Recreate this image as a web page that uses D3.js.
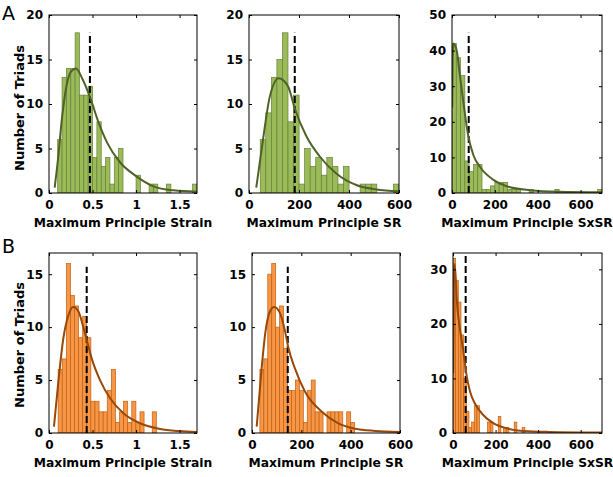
<!DOCTYPE html>
<html><head><meta charset="utf-8">
<script src="https://cdn.jsdelivr.net/npm/d3@7/dist/d3.min.js"></script>
<style>
body{margin:0;background:#fff}
svg{display:block}
text{font-family:"DejaVu Sans",sans-serif;font-weight:bold;fill:#000}
</style>
</head><body>
<svg id="c" width="613" height="477"></svg>
<script>
// ---------------- DATA ----------------
// Row A (green)
const strainA_counts = [6,13,14,14,18,11,11,12,4,8,3,4,1,4,5,0,0,0,2,0,0,1,1,0,0,1,0,0,0,0,0,1];
const strainA_bin = {start:0.1, width:0.05};
const strainA_curve = [[0.065,0.6],[0.1,3.5],[0.15,8.5],[0.2,12],[0.25,13.6],[0.31,14.0],[0.38,12.9],[0.47,10.8],[0.57,7.9],[0.67,5.6],[0.82,3.4],[1.0,1.9],[1.2,0.75],[1.43,0.3],[1.7,0.15]];
const strainA_mean = [0.47, 18];

const srA_counts = [6,9,13,15,18,8,11,1,5,3,4,2,4,3,1,3,0,0,1,1,1,0,0,0,1];
const srA_bin = {start:45, width:22.2};
const srA_curve = [[29,0.6],[56,6],[83,10.8],[119,12.9],[156,12],[183,9.5],[229,6.4],[283,4.1],[349,2.2],[429,0.9],[509,0.4],[600,0.2]];
const srA_mean = [183, 18];

const sxsrA_counts = [42,38,33,9,6,8,8,1,1,2,3,3,3,1,1,1,0,0,1,0,0,0,0,0,1,0,0,0,0,0,0,0,0,0,1];
const sxsrA_bin = {start:0, width:20};
const sxsrA_curve = [[1,24],[3,38],[6,42],[14,41.5],[22,40],[37,33],[53,25.5],[76,16],[100,10.6],[131,7.3],[193,3.7],[255,1.9],[364,0.8],[500,0.35],[700,0.2]];
const sxsrA_mean = [78, 45];

// Row B (orange)
const strainB_counts = [6,7,16,13,12,9,11,9,3,3,2,2,4,6,1,2,3,1,3,1,2,0,0,2];
const strainB_bin = {start:0.105, width:0.047};
const strainB_curve = [[0.057,0.6],[0.107,4.8],[0.164,8.9],[0.222,11.1],[0.279,11.9],[0.337,11.5],[0.394,10.0],[0.433,8.8],[0.49,7.05],[0.586,5.0],[0.70,3.3],[0.854,1.86],[1.045,0.92],[1.275,0.38],[1.5,0.18],[1.7,0.1]];
const strainB_mean = [0.433, 15.7];

const srB_counts = [6,7,15,16,10,12,8,4,4,5,4,1,4,5,2,2,0,2,2,2,2,0,2,1];
const srB_bin = {start:32, width:16};
const srB_curve = [[19,0.6],[39,6.1],[53,9.3],[73,11.5],[90,11.9],[114,11.3],[134,9.6],[147,8.1],[174,6.1],[215,3.9],[283,2.0],[350,0.9],[418,0.4],[499,0.2],[600,0.1]];
const srB_mean = [145, 15.7];

const sxsrB_counts = [32,28,24,18,10,4,1,2,5,5,0,0,0,2,2,0,0,3,0,1,1,0,0,2,0,0,1];
const sxsrB_bin = {start:0, width:12.5};
const sxsrB_curve = [[1,11],[4,28],[7,31],[12,29],[17,25],[33,19],[48.6,15],[61,11.2],[80,7.6],[103,5.4],[142,3.3],[189,1.8],[252,0.86],[330,0.37],[450,0.2],[700,0.1]];
const sxsrB_mean = [59.5, 33];

// Axes / labels
const xTicksStrain = [0, 0.5, 1, 1.5];
const xTickLabelsStrain = ["0", "0.5", "1", "1.5"];
const xTicksSR = [0, 200, 400, 600];
const xTicksSxSR = [0, 200, 400, 600];
const yTicksA = [0, 5, 10, 15, 20];
const yTicksA3 = [0, 10, 20, 30, 40, 50];
const yTicksB = [0, 5, 10, 15];
const yTicksB3 = [0, 10, 20, 30];
const xTitles = ["Maximum Principle Strain", "Maximum Principle SR", "Maximum Principle SxSR"];
const yTitle = "Number of Triads";
const rowLetters = ["A", "B"];

// ---------------- DRAW ----------------
const svg = d3.select("#c");
const green = {fill:"#9bbb59", stroke:"#66803a", curve:"#4f6228"};
const orange = {fill:"#f79646", stroke:"#c0600f", curve:"#984807"};

const panels = [
  {id:"a1", left:49, right:197, top:15, bottom:193, xmax:1.7, ymax:20, counts:strainA_counts, bin:strainA_bin, curve:strainA_curve, mean:strainA_mean, xt:xTicksStrain, xl:xTickLabelsStrain, yt:yTicksA, col:green, title:xTitles[0]},
  {id:"a2", left:249, right:399, top:15, bottom:193, xmax:600, ymax:20, counts:srA_counts, bin:srA_bin, curve:srA_curve, mean:srA_mean, xt:xTicksSR, xl:null, yt:yTicksA, col:green, title:xTitles[1]},
  {id:"a3", left:452, right:602, top:15, bottom:193, xmax:700, ymax:50, counts:sxsrA_counts, bin:sxsrA_bin, curve:sxsrA_curve, mean:sxsrA_mean, xt:xTicksSxSR, xl:null, yt:yTicksA3, col:green, title:xTitles[2]},
  {id:"b1", left:49, right:197, top:253, bottom:433, xmax:1.7, ymax:17, counts:strainB_counts, bin:strainB_bin, curve:strainB_curve, mean:strainB_mean, xt:xTicksStrain, xl:xTickLabelsStrain, yt:yTicksB, col:orange, title:xTitles[0]},
  {id:"b2", left:252, right:400, top:253, bottom:433, xmax:600, ymax:17, counts:srB_counts, bin:srB_bin, curve:srB_curve, mean:srB_mean, xt:xTicksSR, xl:null, yt:yTicksB, col:orange, title:xTitles[1]},
  {id:"b3", left:453, right:602, top:253, bottom:433, xmax:700, ymax:33, counts:sxsrB_counts, bin:sxsrB_bin, curve:sxsrB_curve, mean:sxsrB_mean, xt:xTicksSxSR, xl:null, yt:yTicksB3, col:orange, title:xTitles[2]},
];

const defs = svg.append("defs");

panels.forEach(p => {
  const x = d3.scaleLinear().domain([0, p.xmax]).range([p.left, p.right]);
  const y = d3.scaleLinear().domain([0, p.ymax]).range([p.bottom, p.top]);
  defs.append("clipPath").attr("id", "clip-" + p.id)
    .append("rect").attr("x", p.left).attr("y", p.top)
    .attr("width", p.right - p.left).attr("height", p.bottom - p.top);
  const g = svg.append("g").attr("clip-path", `url(#clip-${p.id})`);

  // bars
  g.selectAll("rect.bar").data(p.counts.map((c, i) => ({c, i})).filter(d => d.c > 0))
    .enter().append("rect").attr("class", "bar")
    .attr("x", d => x(p.bin.start + d.i * p.bin.width))
    .attr("width", d => x(p.bin.start + (d.i + 1) * p.bin.width) - x(p.bin.start + d.i * p.bin.width))
    .attr("y", d => y(d.c))
    .attr("height", d => y(0) - y(d.c))
    .attr("fill", p.col.fill).attr("stroke", p.col.stroke).attr("stroke-width", 0.7);

  // dashed mean line
  g.append("line")
    .attr("x1", x(p.mean[0])).attr("x2", x(p.mean[0]))
    .attr("y1", y(0)).attr("y2", y(p.mean[1]))
    .attr("stroke", "#000").attr("stroke-width", 2).attr("stroke-dasharray", "7,3");

  // fitted curve
  const line = d3.line().x(d => x(d[0])).y(d => y(d[1])).curve(d3.curveMonotoneX);
  g.append("path").datum(p.curve).attr("d", line)
    .attr("fill", "none").attr("stroke", p.col.curve).attr("stroke-width", 2);

  // axes
  const ax = svg.append("g");
  const bottom = d3.axisBottom(x).tickValues(p.xt).tickSizeInner(-3).tickSizeOuter(0).tickPadding(7.5)
    .tickFormat((d, i) => p.xl ? p.xl[i] : d3.format("d")(d));
  const top = d3.axisTop(x).tickValues(p.xt).tickSizeInner(-3).tickSizeOuter(0).tickFormat("");
  const left = d3.axisLeft(y).tickValues(p.yt).tickSizeInner(-3).tickSizeOuter(0).tickPadding(6).tickFormat(d3.format("d"));
  const right = d3.axisRight(y).tickValues(p.yt).tickSizeInner(-3).tickSizeOuter(0).tickFormat("");
  [
    [bottom, `translate(0,${p.bottom})`],
    [top, `translate(0,${p.top})`],
    [left, `translate(${p.left},0)`],
    [right, `translate(${p.right},0)`]
  ].forEach(([a, t]) => {
    const gg = ax.append("g").attr("transform", t).call(a);
    gg.select(".domain").remove();
    gg.selectAll("text").attr("font-size", 12).attr("font-family", "DejaVu Sans").attr("font-weight", "bold");
    gg.selectAll("line").attr("stroke", "#000");
  });
  // box
  ax.append("rect").attr("x", p.left).attr("y", p.top)
    .attr("width", p.right - p.left).attr("height", p.bottom - p.top)
    .attr("fill", "none").attr("stroke", "#000").attr("stroke-width", 1);

  // x title
  svg.append("text").attr("x", (p.left + p.right) / 2).attr("y", p.bottom + 34)
    .attr("text-anchor", "middle").attr("font-size", 12.3).text(p.title);
});

// y titles
[[108], [345]].forEach(([cy], i) => {
  svg.append("text").attr("transform", `translate(24,${cy}) rotate(-90)`)
    .attr("text-anchor", "middle").attr("font-size", 13).text(yTitle);
});
// row letters
svg.append("text").attr("x", 2).attr("y", 20).attr("font-size", 19).attr("font-weight", "normal").style("font-weight", "normal").text(rowLetters[0]);
svg.append("text").attr("x", 2).attr("y", 253).attr("font-size", 19).style("font-weight", "normal").text(rowLetters[1]);
</script>
</body></html>
